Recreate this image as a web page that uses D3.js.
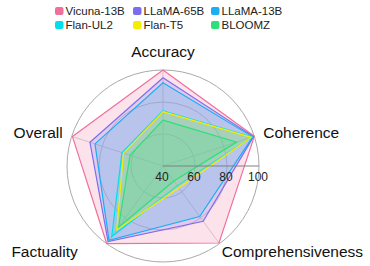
<!DOCTYPE html>
<html lang="en">
<head><meta charset="utf-8">
<title>Radar chart</title>
<style>
body {
  margin: 0;
  background: #ffffff;
  font-family: "Liberation Sans", Arial, sans-serif;
}
.grid {
  fill: none;
  stroke: #c8c8c8;
  stroke-width: 1px;
}
.spoke {
  stroke: #c8c8c8;
  stroke-width: 0.8px;
}
</style>
</head>
<body>
<svg></svg>
<script src="https://d3js.org/d3.v7.min.js"></script>
<script>

var width = 370;
var height = 266;

// data
var axesNames = ["Accuracy", "Coherence", "Comprehensiveness", "Factuality", "Overall"];
var models = ["Vicuna-13B", "LLaMA-65B", "LLaMA-13B", "Flan-UL2", "Flan-T5", "BLOOMZ"];
var vicuna   = [100, 100, 99.5, 99.9, 99.5];
var llama65  = [95.2, 99.5, 82.7, 98.4, 88];
var llama13  = [92, 99, 79, 97.4, 84.7];
var flanUL2  = [74.5, 98.5, 55.3, 94.5, 67];
var flanT5   = [74, 98, 57, 89.2, 66];
var bloomz   = [68.7, 88.4, 51.6, 87.3, 61.7];
var radialTicks = [40, 60, 80, 100];

var seriesValues = [vicuna, llama65, llama13, flanUL2, flanT5, bloomz];
var colors = ["#f0709c", "#7b6cf0", "#1aaef2", "#00e0ea", "#f5ec00", "#2ee07a"];

var cx = 163, cy = 166, R = 96;

var svg = d3.select("svg")
    .attr("width", width)
    .attr("height", height);

var r = d3.scaleLinear().domain([40, 100]).range([0, R]);

// clockwise from the top
var angle = d3.scaleLinear()
    .domain([0, axesNames.length])
    .range([0, 2 * Math.PI]);

var g = svg.append("g").attr("transform", "translate(" + cx + "," + cy + ")");

// grid circles
g.selectAll(".grid")
    .data(radialTicks.slice(1))
  .enter().append("circle")
    .attr("class", "grid")
    .attr("r", function(d) { return r(d); })
    .style("stroke", function(d) { return d === 100 ? "#aaaaaa" : "#c8c8c8"; });

// spokes
g.selectAll(".spoke")
    .data(axesNames)
  .enter().append("line")
    .attr("class", "spoke")
    .attr("x1", 0).attr("y1", 0)
    .attr("x2", function(d, i) { return r(100) * Math.sin(angle(i)); })
    .attr("y2", function(d, i) { return -r(100) * Math.cos(angle(i)); });

var line = d3.lineRadial()
    .angle(function(d, i) { return angle(i); })
    .radius(function(d) { return r(d); })
    .curve(d3.curveLinearClosed);

g.selectAll(".series")
    .data(seriesValues)
  .enter().append("path")
    .attr("class", "series")
    .attr("d", line)
    .style("fill", function(d, i) { return colors[i]; })
    .style("fill-opacity", 0.2)
    .style("stroke", function(d, i) { return colors[i]; })
    .style("stroke-width", 1.2)
    .style("stroke-linejoin", "miter");

// radial axis along angle 0 (to the right)
g.append("line")
    .attr("x1", r(40)).attr("y1", 0)
    .attr("x2", r(100)).attr("y2", 0)
    .style("stroke", "#808080")
    .style("stroke-width", 1.2);

g.selectAll(".rtick")
    .data(radialTicks)
  .enter().append("text")
    .attr("class", "rtick")
    .attr("x", function(d) { return r(d) - 1; })
    .attr("y", 15)
    .attr("text-anchor", "middle")
    .style("font-size", "12px")
    .style("fill", "#222")
    .text(function(d) { return d; });

// axis labels
var labelPos = [
  {dx: 0, dy: -13, anchor: "middle"},
  {dx: 9, dy: 2, anchor: "start"},
  {dx: 73, dy: 13, anchor: "middle"},
  {dx: -62, dy: 13, anchor: "middle"},
  {dx: -9, dy: 2, anchor: "end"}
];

g.selectAll(".alabel")
    .data(axesNames)
  .enter().append("text")
    .attr("class", "alabel")
    .attr("x", function(d, i) { return r(100) * Math.sin(angle(i)) + labelPos[i].dx; })
    .attr("y", function(d, i) { return -r(100) * Math.cos(angle(i)) + labelPos[i].dy; })
    .attr("text-anchor", function(d, i) { return labelPos[i].anchor; })
    .style("font-size", "15.5px")
    .style("fill", "#111")
    .text(function(d) { return d; });

// legend, 3 columns x 2 rows
var legendX = [55, 133, 211];
var legendY = [11, 25];

var leg = svg.selectAll(".legend")
    .data(models)
  .enter().append("g")
    .attr("class", "legend")
    .attr("transform", function(d, i) {
      return "translate(" + legendX[i % 3] + "," + legendY[Math.floor(i / 3)] + ")";
    });

leg.append("rect")
    .attr("x", 0).attr("y", -4)
    .attr("width", 8.5).attr("height", 8)
    .attr("rx", 2)
    .style("fill", function(d, i) { return colors[i]; });

leg.append("text")
    .attr("x", 10.5)
    .attr("y", 4)
    .style("font-size", "11.5px")
    .style("fill", "#222")
    .text(function(d) { return d; });

</script>
</body>
</html>
